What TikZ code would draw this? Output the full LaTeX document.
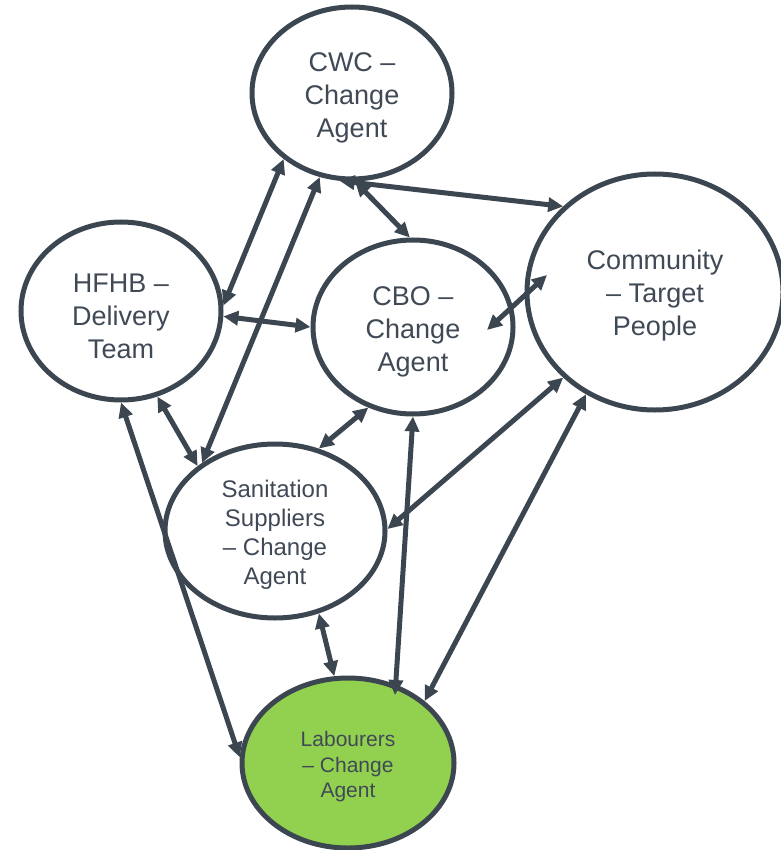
\documentclass[tikz,border=0pt]{standalone}
\usepackage{fontspec}
\setmainfont{Liberation Sans}
\usetikzlibrary{shapes.geometric,arrows.meta,calc}
\definecolor{edgecol}{HTML}{3B4651}
\definecolor{txtcol}{HTML}{404A56}
\definecolor{labgreen}{HTML}{92D050}
\newcommand\lowtext[2]{\raisebox{-#1}[\height][\depth]{\begin{tabular}{@{}c@{}}#2\end{tabular}}}
\begin{document}
\begin{tikzpicture}[x=1pt,y=-1pt,
  agent/.style={ellipse,draw=edgecol,line width=5pt,fill=white,inner sep=0pt,
    text=txtcol},
  bigtxt/.style={font=\fontsize{27}{33}\selectfont},
  link/.style={draw=edgecol,line width=5pt,
    {Triangle[length=15pt,width=14pt]}-{Triangle[length=15pt,width=14pt]}}]
\useasboundingbox (0,0) rectangle (780,850);
\node[agent,bigtxt,minimum width=200pt,minimum height=172pt] (cwc) at (352,93) {\lowtext{5pt}{CWC –\\Change\\Agent}};
\node[agent,bigtxt,minimum width=200pt,minimum height=178pt] (hfhb) at (121,311) {\lowtext{8pt}{HFHB –\\Delivery\\Team}};
\node[agent,bigtxt,minimum width=200pt,minimum height=174pt] (cbo) at (413,327) {\lowtext{5pt}{CBO –\\Change\\Agent}};
\node[agent,bigtxt,minimum width=256pt,minimum height=236pt] (com) at (655,292) {\lowtext{4pt}{Community\\– Target\\People}};
\node[agent,font=\fontsize{24}{29}\selectfont,minimum width=220pt,minimum height=174pt] (san) at (275,531) {\lowtext{4pt}{Sanitation\\Suppliers\\– Change\\Agent}};
\node[agent,fill=labgreen,font=\fontsize{21}{25.5}\selectfont,minimum width=212pt,minimum height=170pt] (lab) at (348,763) {\lowtext{4pt}{Labourers\\– Change\\Agent}};
\coordinate (cboin) at ($(cbo.center)+(74,3)$);
\coordinate (comin) at ($(com.center)+(-108,-17)$);
\coordinate (labin) at ($(lab.center)+(47,-68)$);
\draw[link] (hfhb.3) -- (cwc.-136);
\draw[link] (san.137) -- (cwc.-111);
\draw[link] (cwc.-88) -- (cbo.92);
\draw[link] (cwc.-98) -- (com.137.6);
\draw[link] (hfhb.-3.4) -- (cbo.180);
\draw[link] (cboin) -- (comin);
\draw[link] (cbo.-119.4) -- (san.62);
\draw[link] (hfhb.-67.9) -- (san.140.6);
\draw[link] (hfhb.-90.6) -- (lab.177.4);
\draw[link] (san.-62) -- (lab.99.9);
\draw[link] (cbo.-90.6) -- (labin);
\draw[link] (com.-124.4) -- (lab.39.1);
\draw[link] (com.-137.1) -- (san.1.5);
\end{tikzpicture}
\end{document}
